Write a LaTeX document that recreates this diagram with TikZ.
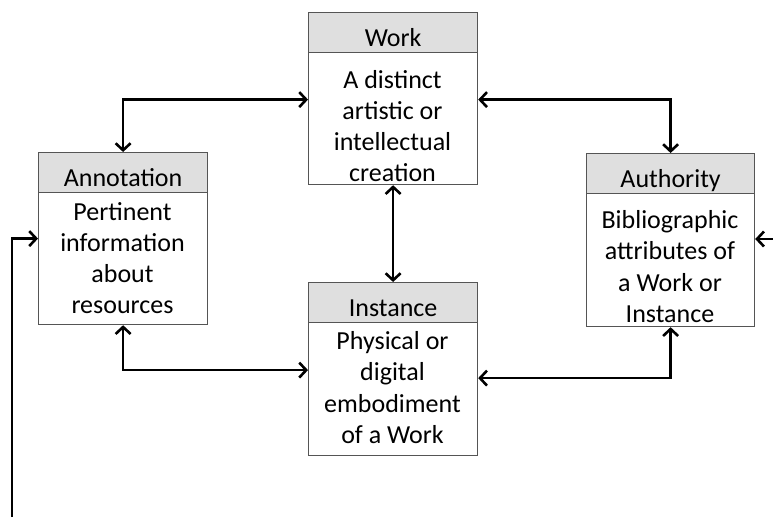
\documentclass[tikz,border=0pt]{standalone}
\usepackage{fontspec}
\setmainfont{Carlito}
\usetikzlibrary{arrows.meta}
\definecolor{hdrgray}{HTML}{DFDFDF}
\definecolor{boxline}{HTML}{555555}
\tikzset{
  boxrect/.style={draw=boxline, line width=1.2pt, fill=white, rectangle, inner sep=0pt, anchor=north west},
  hdrrect/.style={draw=boxline, line width=1.2pt, fill=hdrgray, rectangle, inner xsep=0pt, inner ysep=0pt,
    anchor=north west, minimum height=40pt, text height=33.5pt, text depth=6.5pt,
    font=\fontsize{26}{31.7}\selectfont},
  bodytxt/.style={align=center, inner sep=0pt, font=\fontsize{26}{31.2}\selectfont},
  arr/.style={draw=black, line width=2.6pt, {Straight Barb[length=7pt,width=15pt]}-{Straight Barb[length=7pt,width=15pt]}},
  arrone/.style={draw=black, line width=2.6pt, -{Straight Barb[length=7pt,width=15pt]}}
}
\begin{document}
\begin{tikzpicture}[x=1pt,y=-1pt]
\useasboundingbox (0,0) rectangle (773,517);
% Work
\node[boxrect, minimum width=169pt, minimum height=132pt] (work) at (308,52) {};
\node[hdrrect, minimum width=169pt] (workh) at (308,12) {Work};
\node[bodytxt] (workt) at (392.5,126) {A distinct\\artistic or\\intellectual\\creation};
% Annotation
\node[boxrect, minimum width=169pt, minimum height=132pt] (annot) at (38,192) {};
\node[hdrrect, minimum width=169pt] (annoth) at (38,152) {Annotation};
\node[bodytxt] (annott) at (122.5,258) {Pertinent\\information\\about\\resources};
% Authority
\node[boxrect, minimum width=168pt, minimum height=133pt] (auth) at (586,193) {};
\node[hdrrect, minimum width=168pt] (authh) at (586,153) {Authority};
\node[bodytxt] (autht) at (670,266.5) {Bibliographic\\attributes of\\a Work or\\Instance};
% Instance
\node[boxrect, minimum width=169pt, minimum height=133pt] (inst) at (308,322) {};
\node[hdrrect, minimum width=169pt] (insth) at (308,282) {Instance};
\node[bodytxt] (instt) at (392.5,387.5) {Physical or\\digital\\embodiment\\of a Work};
% connectors
\draw[arr] (annoth.north) |- ([yshift=19pt]work.west);
\draw[arr] ([yshift=19pt]work.east) -| (authh.north);
\draw[arr] (work.south) -- (insth.north);
\draw[arr] (annot.south) |- ([yshift=19pt]inst.west);
\draw[arr] ([yshift=11pt]inst.east) -| (auth.south);
\coordinate (lstart) at (12,517);
\coordinate (rstart) at (773,239);
\draw[arrone] (lstart) |- ([yshift=20pt]annot.west);
\draw[arrone] (rstart) -- (rstart -| auth.east);
\end{tikzpicture}
\end{document}
